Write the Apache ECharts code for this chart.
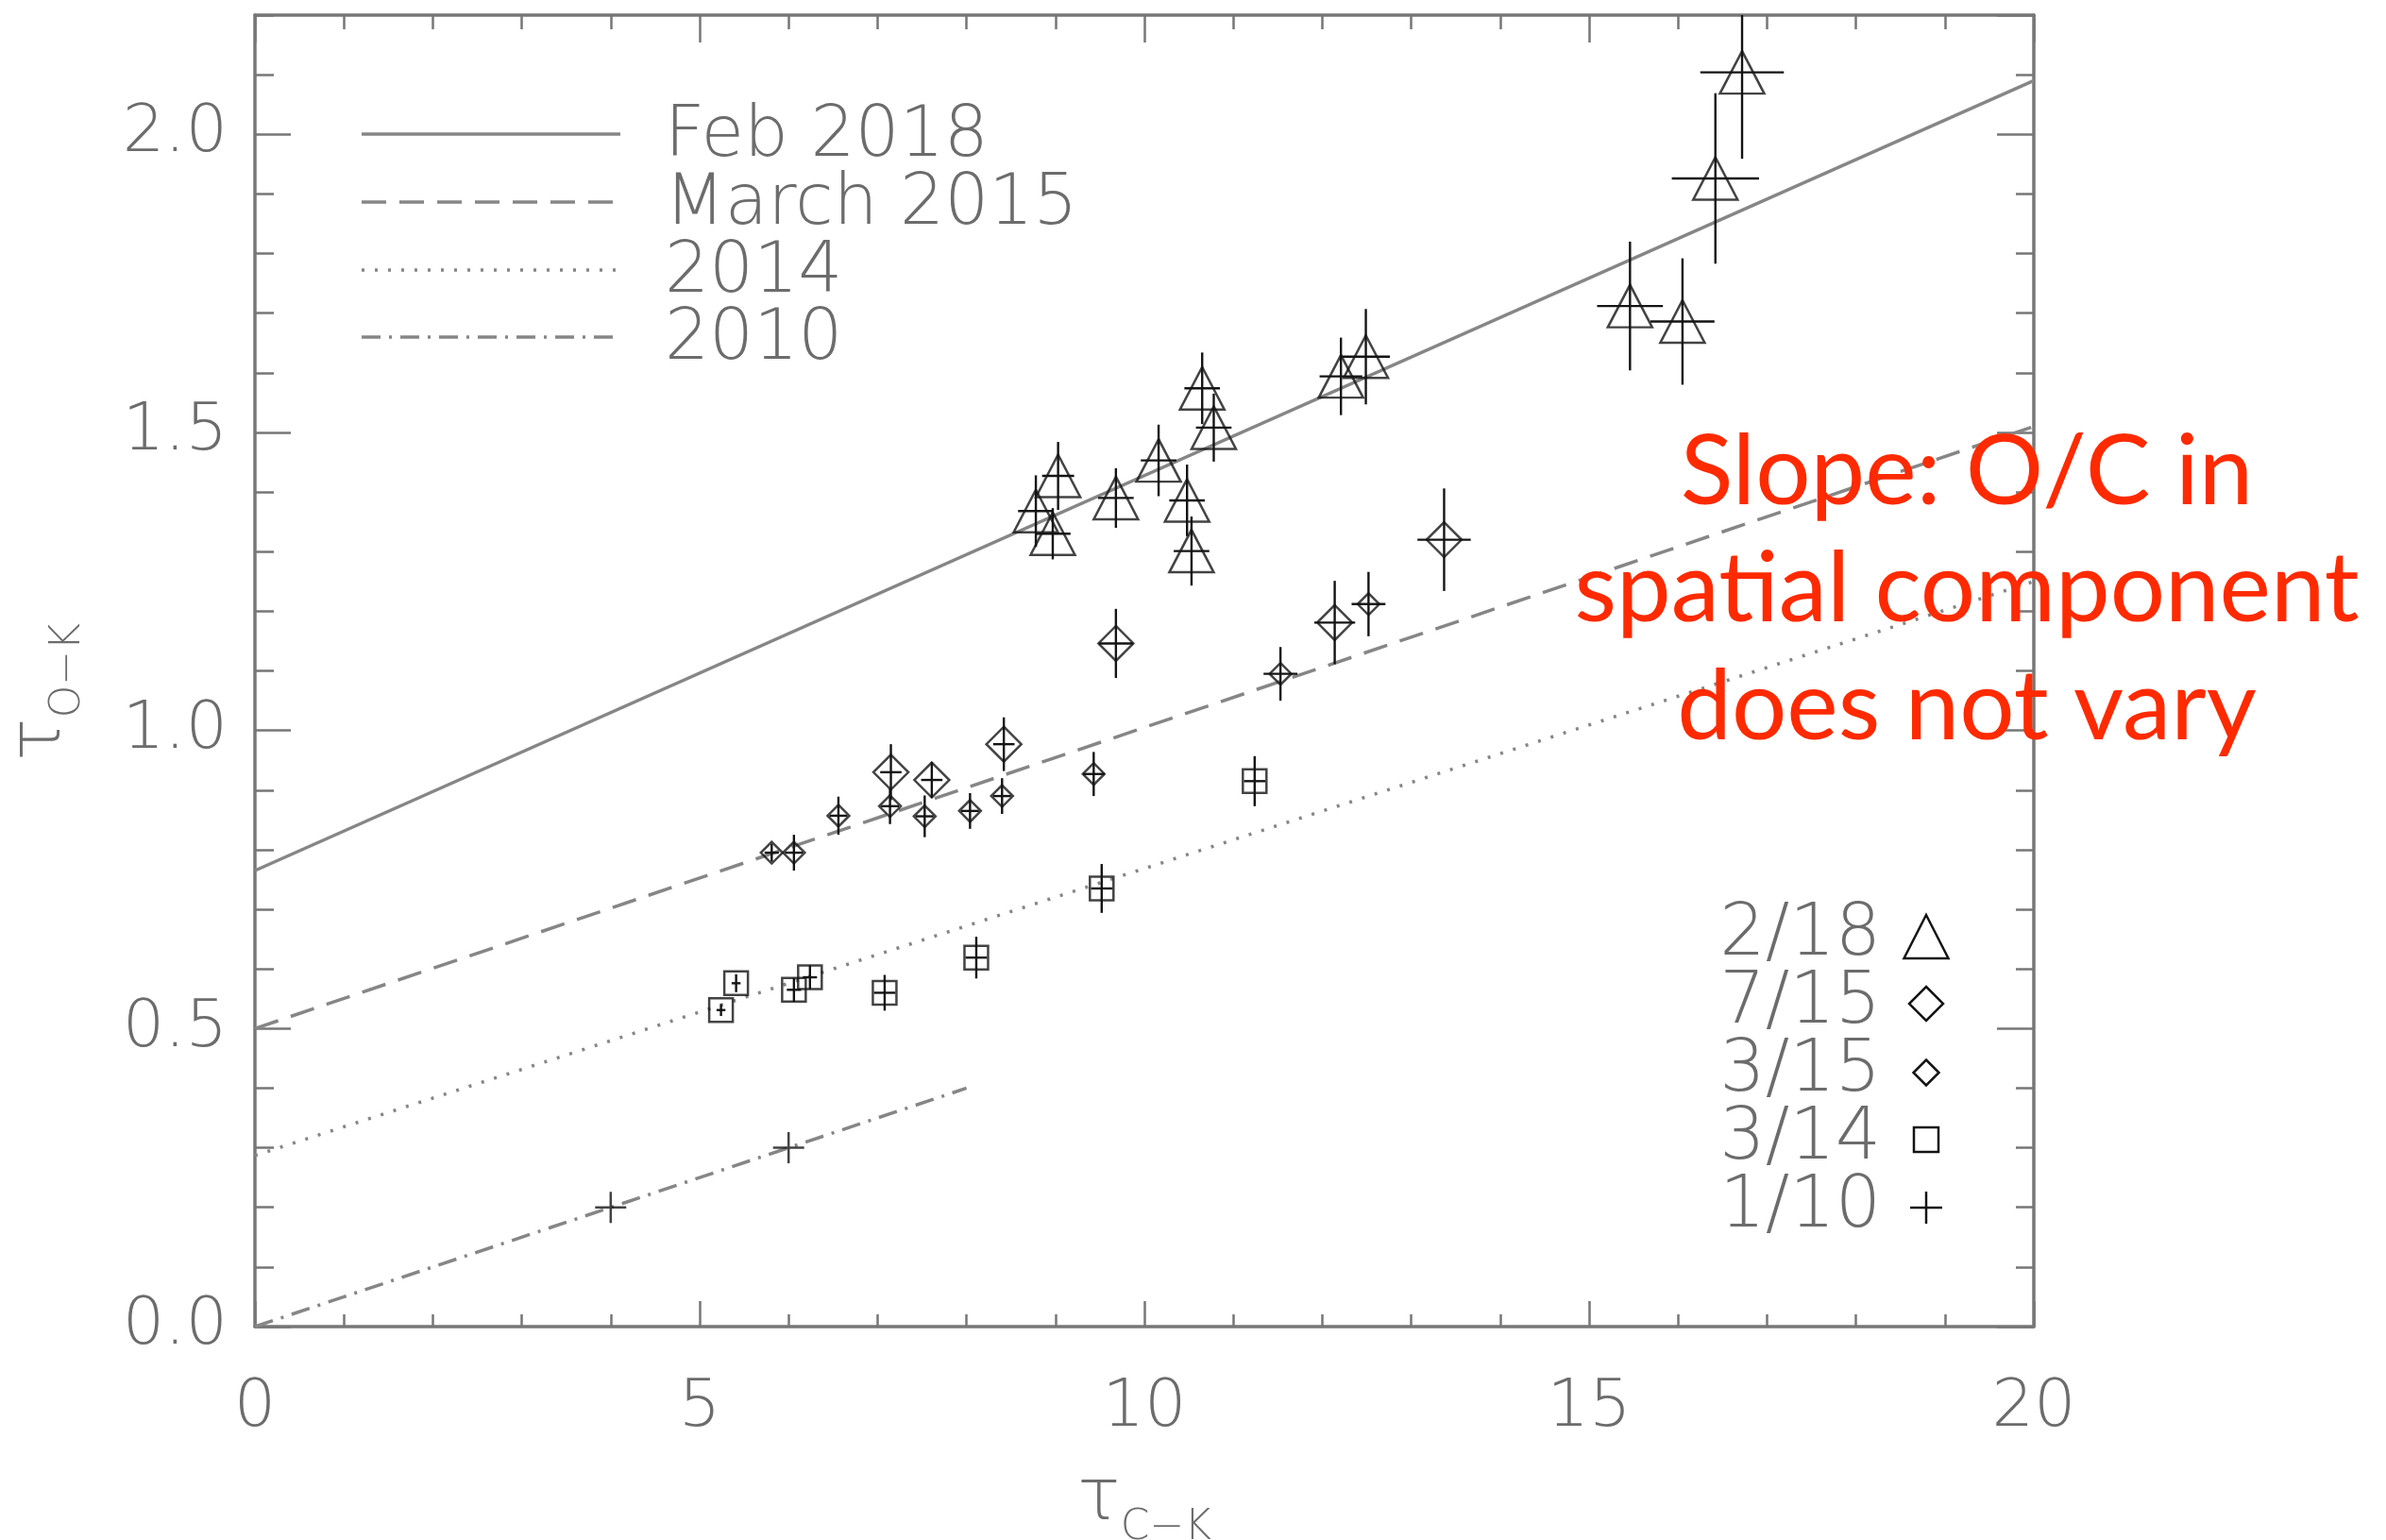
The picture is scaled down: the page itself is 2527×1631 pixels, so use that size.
<!DOCTYPE html>
<html>
<head>
<meta charset="utf-8">
<script src="https://cdn.jsdelivr.net/npm/echarts@6/dist/echarts.min.js"></script>
<style>
  html, body { margin: 0; padding: 0; background: #ffffff; }
  #chart { width: 2527px; height: 1631px; }
</style>
</head>
<body>
<div id="chart"></div>
<script>
// ---- measurements: tau(C-K) vs tau(O-K), with 1-sigma error bars ----

// 2/18 (triangles)
const feb18X    = [8.78, 8.97, 9.03, 9.68, 10.16, 10.48, 10.53, 10.65, 10.78, 12.21, 12.49, 15.46, 16.05, 16.42, 16.72];
const feb18Y    = [1.368, 1.330, 1.427, 1.390, 1.453, 1.386, 1.301, 1.574, 1.508, 1.594, 1.627, 1.712, 1.686, 1.926, 2.104];
const feb18XErr = [0.20, 0.20, 0.18, 0.20, 0.20, 0.20, 0.20, 0.20, 0.20, 0.24, 0.27, 0.37, 0.36, 0.49, 0.47];
const feb18YErr = [0.060, 0.043, 0.057, 0.050, 0.060, 0.060, 0.058, 0.060, 0.057, 0.065, 0.080, 0.108, 0.106, 0.143, 0.145];

// 7/15 (large diamonds)
const jul15X    = [7.15, 7.61, 8.42, 9.68, 12.14, 13.37];
const jul15Y    = [0.930, 0.917, 0.977, 1.146, 1.181, 1.320];
const jul15XErr = [0.12, 0.12, 0.12, 0.19, 0.23, 0.30];
const jul15YErr = [0.047, 0.030, 0.045, 0.058, 0.070, 0.086];

// 3/15 (small diamonds)
const mar15X    = [5.81, 6.06, 6.56, 7.14, 7.53, 8.04, 8.40, 9.43, 11.53, 12.52];
const mar15Y    = [0.795, 0.795, 0.857, 0.873, 0.856, 0.865, 0.890, 0.927, 1.095, 1.212];
const mar15XErr = [0.08, 0.10, 0.10, 0.10, 0.10, 0.10, 0.10, 0.12, 0.19, 0.19];
const mar15YErr = [0.015, 0.030, 0.032, 0.030, 0.035, 0.030, 0.030, 0.037, 0.045, 0.054];

// 3/14 (squares)
const mar14X    = [5.24, 5.41, 6.06, 6.24, 7.08, 8.11, 9.52, 11.24];
const mar14Y    = [0.531, 0.576, 0.565, 0.586, 0.560, 0.619, 0.735, 0.915];
const mar14XErr = [0.05, 0.05, 0.08, 0.08, 0.12, 0.12, 0.12, 0.12];
const mar14YErr = [0.010, 0.015, 0.020, 0.020, 0.030, 0.035, 0.041, 0.042];

// 1/10 (plus signs)
const jan10X = [4.0, 6.0];
const jan10Y = [0.20, 0.30];

// straight-line fits, end points [tauCK, tauOK]
const fitFeb2018   = [[0, 0.765], [20, 2.09]];
const fitMarch2015 = [[0, 0.50], [20, 1.51]];
const fit2014      = [[0, 0.287], [20, 1.25]];
const fit2010      = [[0, 0.0], [8, 0.40]];

const fitNames   = ['Feb 2018', 'March 2015', '2014', '2010'];
const epochNames = ['2/18', '7/15', '3/15', '3/14', '1/10'];
const annotation = ['Slope: O/C in', 'spatial component', 'does not vary'];

// ---- styling ----
const INK  = '#141414';
const AXIS = '#777777';
const FIT  = '#868686';
const TXT  = '#6c6c6c';
const RED  = '#ff2a00';
const FONT = "'DejaVu Sans ExtraLight', 'DejaVu Sans'";
const LIGHT = 200;
const RFONT = 'Lato';

const dashStyles = ['solid', [26, 14], [3, 11], [20, 9, 3, 9]];

function pairs(xs, ys) { return xs.map((x, i) => [x, ys[i]]); }
function errRows(xs, ys, ex, ey) { return xs.map((x, i) => [x, ys[i], ex[i], ey[i]]); }

function renderErrorBars(params, api) {
  const x = api.value(0), y = api.value(1), ex = api.value(2), ey = api.value(3);
  const style = { stroke: INK, lineWidth: 2.4 };
  const children = [];
  if (ey > 0) {
    const a = api.coord([x, y - ey]), b = api.coord([x, y + ey]);
    children.push({ type: 'line', shape: { x1: a[0], y1: a[1], x2: b[0], y2: b[1] }, style });
  }
  if (ex > 0) {
    const a = api.coord([x - ex, y]), b = api.coord([x + ex, y]);
    children.push({ type: 'line', shape: { x1: a[0], y1: a[1], x2: b[0], y2: b[1] }, style });
  }
  return { type: 'group', children };
}

const hollow = { color: 'rgba(0,0,0,0)', borderColor: INK, borderWidth: 2.5 };
const PLUS = 'path://M0,5L10,5M5,0L5,10';

const markerSpec = [
  { symbol: 'triangle', size: [47, 45] },
  { symbol: 'diamond',  size: 37 },
  { symbol: 'diamond',  size: 23 },
  { symbol: 'rect',     size: 25 },
  { symbol: PLUS,       size: 33 }
];

function fitSeries(data, i) {
  return {
    type: 'line', name: fitNames[i], data, symbol: 'none', silent: true, z: 1,
    lineStyle: { color: FIT, width: 3.5, type: dashStyles[i] }
  };
}
function errSeries(rows) {
  return { type: 'custom', renderItem: renderErrorBars, data: rows, clip: true, silent: true, z: 2,
           encode: { x: 0, y: 1 } };
}
function markSeries(data, i) {
  return {
    type: 'scatter', name: epochNames[i], data, symbol: markerSpec[i].symbol,
    symbolSize: markerSpec[i].size, itemStyle: hollow, silent: true, z: 3
  };
}

// ---- layout ----
const G = { left: 270, top: 16, width: 1884, height: 1389 };

function xAx(pos, major, minor, labels) {
  return {
    type: 'value', position: pos, min: 0, max: 20, interval: 5,
    axisLine: { show: true, onZero: false, lineStyle: { color: AXIS, width: 3.5 } },
    axisTick: { show: true, inside: true, length: major, lineStyle: { color: AXIS, width: 2.5 } },
    minorTick: { show: true, splitNumber: 5, length: minor, lineStyle: { color: AXIS, width: 2.5 } },
    axisLabel: { show: labels, margin: 52, color: TXT, fontFamily: FONT, fontWeight: LIGHT, fontSize: 70 },
    splitLine: { show: false }, minorSplitLine: { show: false }
  };
}
function yAx(pos, step, len, labels, line) {
  return {
    type: 'value', position: pos, min: 0, max: 2.2, interval: step,
    axisLine: { show: line, onZero: false, lineStyle: { color: AXIS, width: 3.5 } },
    axisTick: { show: true, inside: true, length: len, lineStyle: { color: AXIS, width: 2.5 } },
    axisLabel: { show: labels, showMaxLabel: false, margin: 29, color: TXT, fontFamily: FONT,
                 fontWeight: LIGHT, fontSize: 70, formatter: v => v.toFixed(1) },
    splitLine: { show: false }
  };
}

// legend of fit lines (top left)
const fitLegendY = [142, 214, 286, 357];
const legendGraphics = [];
fitNames.forEach((name, i) => {
  legendGraphics.push({
    type: 'line', shape: { x1: 383, y1: fitLegendY[i], x2: 657, y2: fitLegendY[i] },
    style: { stroke: FIT, lineWidth: 3.5, lineDash: dashStyles[i] === 'solid' ? null : dashStyles[i] }, z: 10
  });
  legendGraphics.push({
    type: 'text', x: 704, y: fitLegendY[i] + 4,
    style: { text: name, fill: TXT, font: `${LIGHT} 74px ${FONT}`, verticalAlign: 'middle', align: 'left' }, z: 10
  });
});

// legend of observing epochs (bottom right)
const epochLegendY = [988, 1060, 1132, 1204, 1276];
const EX = 2040;
function triPts(cx, cy, w, h) { return [[cx, cy - h / 2], [cx + w / 2, cy + h / 2], [cx - w / 2, cy + h / 2]]; }
function diaPts(cx, cy, s) { return [[cx, cy - s / 2], [cx + s / 2, cy], [cx, cy + s / 2], [cx - s / 2, cy]]; }
const iconStyle = { fill: null, stroke: INK, lineWidth: 2.5 };
epochNames.forEach((name, i) => {
  legendGraphics.push({
    type: 'text', x: 1992, y: epochLegendY[i] + 3,
    style: { text: name, fill: TXT, font: `${LIGHT} 76px ${FONT}`, verticalAlign: 'middle', align: 'right' }, z: 10
  });
});
legendGraphics.push({ type: 'polygon', shape: { points: triPts(EX, epochLegendY[0] + 4, 47, 46) }, style: iconStyle, z: 10 });
legendGraphics.push({ type: 'polygon', shape: { points: diaPts(EX, epochLegendY[1] + 3, 36) }, style: iconStyle, z: 10 });
legendGraphics.push({ type: 'polygon', shape: { points: diaPts(EX, epochLegendY[2] + 4, 27) }, style: iconStyle, z: 10 });
legendGraphics.push({ type: 'rect', shape: { x: EX - 13, y: epochLegendY[3] + 3 - 13, width: 26, height: 26 }, style: iconStyle, z: 10 });
legendGraphics.push({ type: 'line', shape: { x1: EX - 17, y1: epochLegendY[4] + 3, x2: EX + 17, y2: epochLegendY[4] + 3 }, style: iconStyle, z: 10 });
legendGraphics.push({ type: 'line', shape: { x1: EX, y1: epochLegendY[4] + 3 - 17, x2: EX, y2: epochLegendY[4] + 3 + 17 }, style: iconStyle, z: 10 });

// axis titles
const titleRich = {
  t: { fontFamily: FONT, fontWeight: LIGHT, fontSize: 76, fill: TXT, verticalAlign: 'bottom', padding: [0, 0, 14, 0] },
  s: { fontFamily: FONT, fontWeight: LIGHT, fontSize: 44, fill: TXT, verticalAlign: 'bottom' }
};
legendGraphics.push({
  type: 'text', x: 1212, y: 1596,
  style: { text: '{t|τ}{s|C−K}', rich: titleRich, align: 'center', verticalAlign: 'middle' }, z: 10
});
legendGraphics.push({
  type: 'text', x: 50, y: 733, rotation: Math.PI / 2,
  style: { text: '{t|τ}{s|O−K}', rich: titleRich, align: 'center', verticalAlign: 'middle' }, z: 10
});

// red annotation
const annoMid = [501, 625, 750];
annotation.forEach((line, i) => {
  legendGraphics.push({
    type: 'text', x: 2083, y: annoMid[i],
    style: { text: line, fill: RED, font: `400 103px ${RFONT}`, align: 'center', verticalAlign: 'middle' }, z: 20
  });
});

const option = {
  animation: false,
  backgroundColor: '#ffffff',
  grid: G,
  xAxis: [xAx('bottom', 27, 13, true), xAx('top', 29, 15, false)],
  yAxis: [
    yAx('left', 0.5, 38, true, true), yAx('left', 0.1, 20, false, false),
    yAx('right', 0.5, 39, false, true), yAx('right', 0.1, 19, false, false)
  ],
  series: [
    fitSeries(fitFeb2018, 0), fitSeries(fitMarch2015, 1), fitSeries(fit2014, 2), fitSeries(fit2010, 3),
    errSeries(errRows(feb18X, feb18Y, feb18XErr, feb18YErr)),
    errSeries(errRows(jul15X, jul15Y, jul15XErr, jul15YErr)),
    errSeries(errRows(mar15X, mar15Y, mar15XErr, mar15YErr)),
    errSeries(errRows(mar14X, mar14Y, mar14XErr, mar14YErr)),
    markSeries(pairs(feb18X, feb18Y), 0),
    markSeries(pairs(jul15X, jul15Y), 1),
    markSeries(pairs(mar15X, mar15Y), 2),
    markSeries(pairs(mar14X, mar14Y), 3),
    markSeries(pairs(jan10X, jan10Y), 4)
  ],
  graphic: legendGraphics
};

const chart = echarts.init(document.getElementById('chart'), null, { renderer: 'canvas' });
chart.setOption(option);
</script>
</body>
</html>
